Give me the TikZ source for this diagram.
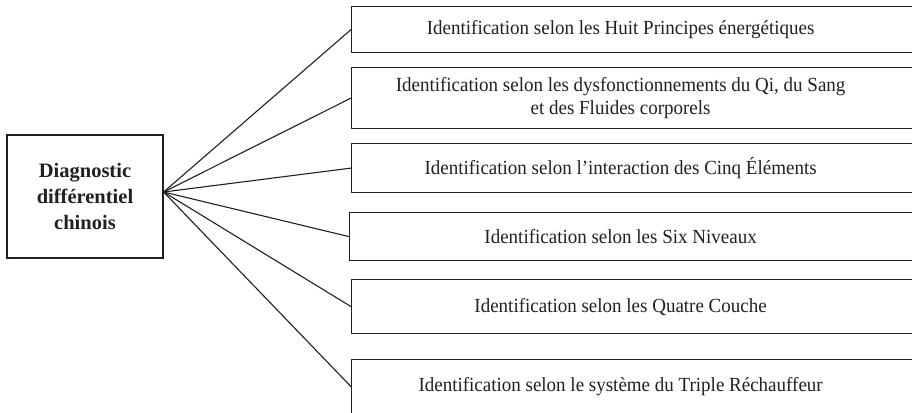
\documentclass[tikz,border=0pt]{standalone}
\usepackage{fontspec}
\setmainfont{Liberation Serif}
\newfontfamily\rfont[FakeStretch=0.95]{Liberation Serif}
\definecolor{ink}{HTML}{231F20}
\newcommand{\padr}{\rule{36pt}{0pt}}
\begin{document}
\begin{tikzpicture}[x=1pt,y=-1pt,
  rbox/.style={draw=ink, line width=1.2pt, anchor=north west, inner xsep=0pt, inner ysep=0pt,
    minimum width=574pt, text=ink, font=\rfont\fontsize{20}{23}\selectfont},
  lbox/.style={draw=ink, line width=1.2pt, minimum width=156pt, minimum height=123pt,
    align=center, text=ink, font=\bfseries\fontsize{20.5}{26}\selectfont},
  link/.style={draw=ink, line width=1.1pt}]
\useasboundingbox (0,0) rectangle (912,412);
\clip (0,0) rectangle (912,412);
\node[lbox] (diag) at (85,196.5) {Diagnostic\\différentiel\\chinois};
\coordinate (hub) at ([yshift=4.5pt]diag.east);
\node[rbox, minimum height=46pt] (b1) at (351,6)
  {\makebox[538pt]{Identification selon les Huit Principes énergétiques}\padr};
\node[rbox, minimum height=61pt] (b2) at (351,67)
  {\parbox{538pt}{\centering Identification selon les dysfonctionnements du Qi, du Sang\\ et des Fluides corporels}\padr};
\node[rbox, minimum height=49pt] (b3) at (351,143)
  {\makebox[538pt]{Identification selon l’interaction des Cinq Éléments}\padr};
\node[rbox, minimum height=48pt] (b4) at (349,212)
  {\makebox[542pt]{Identification selon les Six Niveaux}\padr};
\node[rbox, minimum height=54pt] (b5) at (351,279)
  {\makebox[538pt]{Identification selon les Quatre Couche}\padr};
\node[rbox, minimum height=54pt] (b6) at (351,359)
  {\makebox[538pt]{Identification selon le système du Triple Réchauffeur}\padr};
\foreach \b in {b1,b2,b3,b4,b5,b6}
  \draw[link] (hub) -- (\b.west);
\end{tikzpicture}
\end{document}
